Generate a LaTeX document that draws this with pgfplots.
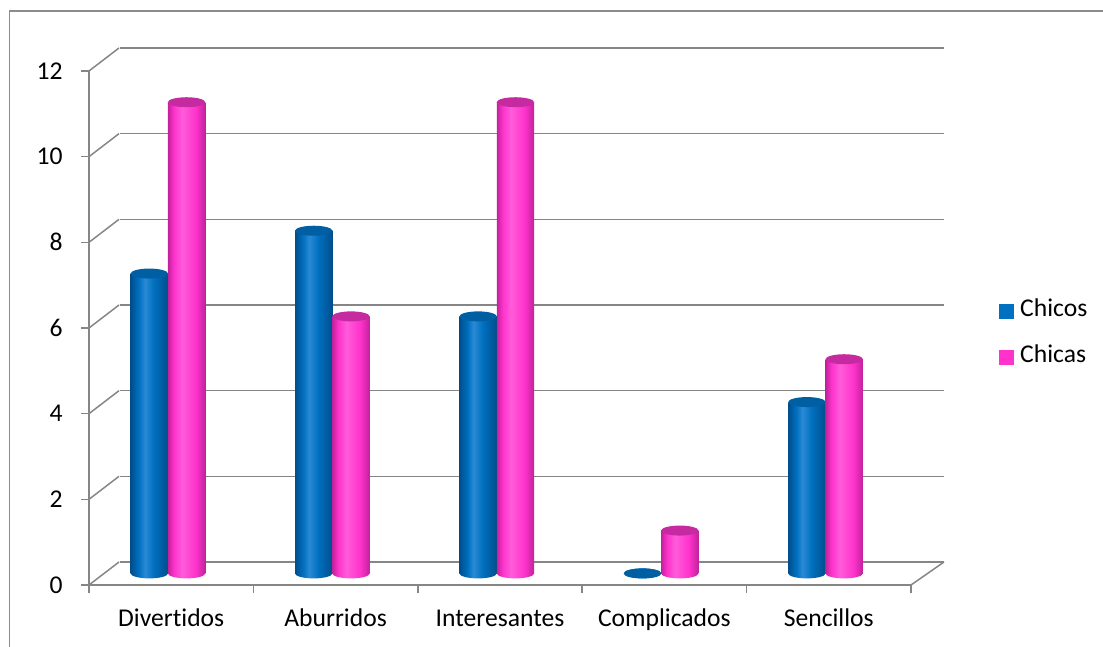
\documentclass[border=0pt]{standalone}
\usepackage{fontspec}
\setmainfont{Carlito}[Ligatures=NoCommon]
\usepackage{pgfplots}
\usepackage{pgfplotstable}
\pgfplotsset{compat=1.18}

\definecolor{gridgray}{HTML}{868686}
\definecolor{frameg}{HTML}{8C8C8C}
\definecolor{chicos}{HTML}{0070C0}
\definecolor{chicosdk}{HTML}{004E8C}
\definecolor{chicoslt}{HTML}{2A8AD4}
\definecolor{chicostop}{HTML}{005FA3}
\definecolor{chicas}{HTML}{FF33CC}
\definecolor{chicasdk}{HTML}{C2229C}
\definecolor{chicaslt}{HTML}{FF5CDA}
\definecolor{chicastop}{HTML}{C62AA0}

\pgfdeclarehorizontalshading{cylblue}{100bp}{color(0bp)=(chicosdk); color(25bp)=(chicosdk); color(36bp)=(chicos); color(44bp)=(chicoslt); color(56bp)=(chicos); color(75bp)=(chicosdk); color(100bp)=(chicosdk)}
\pgfdeclarehorizontalshading{cylpink}{100bp}{color(0bp)=(chicasdk); color(25bp)=(chicasdk); color(33bp)=(chicas); color(44bp)=(chicaslt); color(62bp)=(chicas); color(75bp)=(chicasdk); color(100bp)=(chicasdk)}

\pgfdeclareplotmark{botblue}{\shade[shading=cylblue, draw=none] (0pt,0pt) ellipse [x radius=9.33pt, y radius=2.5pt];}
\pgfdeclareplotmark{topblue}{\fill[chicostop, draw=none] (0pt,0pt) ellipse [x radius=9.33pt, y radius=2.5pt];}
\pgfdeclareplotmark{botpink}{\shade[shading=cylpink, draw=none] (0pt,0pt) ellipse [x radius=9.33pt, y radius=2.5pt];}
\pgfdeclareplotmark{toppink}{\fill[chicastop, draw=none] (0pt,0pt) ellipse [x radius=9.33pt, y radius=2.5pt];}

\pgfplotstableread{
x chicos chicas
0 7 11
1 8 6
2 6 11
3 0 1
4 4 5
}\datatable

\pgfplotsset{
  cyl/.style={scale only axis, width=411pt, height=257pt,
    xmin=-0.5, xmax=4.5, ymin=0, ymax=12, clip=false, anchor=south west},
  barax/.style={cyl, hide axis, ybar, bar width=18.65pt, bar shift=0pt},
}

\begin{document}
\begin{tikzpicture}[font=\fontsize{12.8}{15}\selectfont]
\useasboundingbox (0,0) rectangle (551.5pt,323.5pt);
\draw[frameg, line width=0.75pt] (4.75pt,0pt) -- (4.75pt,318pt) -- (551.5pt,318pt);

% back wall with gridlines
\begin{axis}[cyl, at={(59.75pt,42.5pt)}, width=412.25pt,
  axis line style={draw=none}, ymajorgrids, ytick={0,2,...,12}, xtick=\empty,
  major grid style={gridgray, line width=0.75pt}, major tick length=0pt,
  yticklabels={}]
\end{axis}

% front axis
\begin{axis}[cyl, at={(44.5pt,31pt)},
  axis x line=bottom, axis y line=left,
  axis line style={gridgray, line width=0.75pt, -},
  tick align=outside, major tick length=4pt, minor tick length=4pt,
  tick style={gridgray, line width=0.75pt},
  ytick={0,2,...,12},
  xtick={0,...,4},
  xticklabels={Divertidos,Aburridos,Interesantes,Complicados,Sencillos},
  minor xtick={-0.5,0.5,...,4.5},
  major x tick style={draw=none},
  /pgf/number format/assume math mode=true,
  yticklabel style={anchor=east, inner sep=0pt, xshift=-9pt},
  xticklabel style={anchor=base, inner sep=0pt, yshift=-16.5pt},
  legend style={at={(1.1071,0.487)}, anchor=west, draw=none, fill=none,
    inner sep=0pt, row sep=11.5pt, column sep=1pt,
    cells={anchor=west, inner sep=0pt, text height=6.2pt, text depth=0pt}},
]
\addlegendimage{legend image code/.code={\fill[chicos] (0pt,-3.5pt) rectangle (7pt,3.5pt);}}
\addlegendentry{Chicos}
\addlegendimage{legend image code/.code={\fill[chicas] (0pt,-3.5pt) rectangle (7pt,3.5pt);}}
\addlegendentry{Chicas}
\pgfplotsinvokeforeach{0,2,...,12}{
  \draw[gridgray, line width=0.75pt] (axis cs:-0.5,#1) -- ++(15pt,11.5pt);
}
\draw[gridgray, line width=0.75pt] (axis cs:4.5,0) -- ++(16.5pt,11.5pt);
\end{axis}

% Chicos cylinders: one plot per bar so each bar gets its own shading
\begin{axis}[barax, at={(33.55pt,36.8pt)}]
\addplot[only marks, mark=botblue] table[x=x, y expr=0] {\datatable};
\pgfplotsinvokeforeach{0,...,4}{
  \addplot[draw=none, shading=cylblue, restrict x to domain=#1:#1]
    table[x=x, y=chicos] {\datatable};
}
\addplot[only marks, mark=topblue] table[x=x, y=chicos] {\datatable};
\end{axis}

% Chicas cylinders
\begin{axis}[barax, at={(52.2pt,36.8pt)}]
\addplot[only marks, mark=botpink] table[x=x, y expr=0] {\datatable};
\pgfplotsinvokeforeach{0,...,4}{
  \addplot[draw=none, shading=cylpink, restrict x to domain=#1:#1]
    table[x=x, y=chicas] {\datatable};
}
\addplot[only marks, mark=toppink] table[x=x, y=chicas] {\datatable};
\end{axis}
\end{tikzpicture}
\end{document}
